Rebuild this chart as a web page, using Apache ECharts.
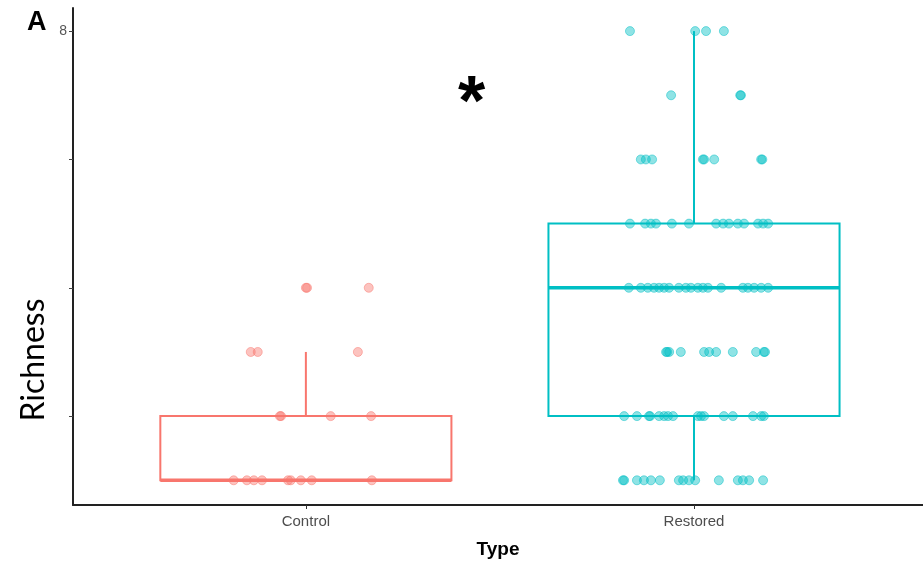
<!DOCTYPE html>
<html>
<head>
<meta charset="utf-8">
<script src="https://cdn.jsdelivr.net/npm/echarts@6/dist/echarts.min.js"></script>
<style>
  html, body { margin: 0; padding: 0; background: #fff; }
  #chart { width: 923px; height: 565px; }
</style>
</head>
<body>
<div id="chart"></div>
<script>
// Site types and their colours
const categories = ['Control', 'Restored'];
const colors = ['#F8766D', '#00BFC4'];

// Box summaries: [position, lower whisker, Q1, median, Q3, upper whisker]
const controlBox = [1, 1, 1, 1, 2, 3];
const restoredBox = [2, 1, 2, 4, 5, 8];

// Jittered observations: [jittered position, richness]
const controlPoints = [
  [1.000, 4], [1.003, 4], [1.162, 4],
  [0.858, 3], [0.876, 3], [1.134, 3],
  [0.933, 2], [0.936, 2], [1.064, 2], [1.168, 2],
  [0.814, 1], [0.848, 1], [0.866, 1], [0.887, 1], [0.954, 1],
  [0.961, 1], [0.987, 1], [1.015, 1], [1.170, 1]
];
const restoredPoints = [
  [1.835, 8], [2.003, 8], [2.031, 8], [2.077, 8],
  [1.941, 7], [2.119, 7], [2.121, 7],
  [1.863, 6], [1.876, 6], [1.892, 6], [2.023, 6], [2.026, 6], [2.052, 6], [2.173, 6], [2.176, 6],
  [1.835, 5], [1.874, 5], [1.889, 5], [1.902, 5], [1.943, 5], [1.987, 5], [2.057, 5],
  [2.075, 5], [2.090, 5], [2.113, 5], [2.129, 5], [2.165, 5], [2.178, 5], [2.191, 5],
  [1.832, 4], [1.863, 4], [1.881, 4], [1.897, 4], [1.910, 4], [1.923, 4], [1.936, 4],
  [1.961, 4], [1.979, 4], [1.992, 4], [2.010, 4], [2.023, 4], [2.036, 4], [2.070, 4],
  [2.126, 4], [2.139, 4], [2.155, 4], [2.173, 4], [2.191, 4],
  [1.928, 3], [1.931, 3], [1.936, 3], [1.966, 3], [2.026, 3], [2.039, 3], [2.057, 3],
  [2.100, 3], [2.160, 3], [2.180, 3], [2.183, 3],
  [1.820, 2], [1.853, 2], [1.884, 2], [1.887, 2], [1.910, 2], [1.923, 2], [1.933, 2],
  [1.946, 2], [2.010, 2], [2.018, 2], [2.026, 2], [2.077, 2], [2.100, 2], [2.152, 2],
  [2.173, 2], [2.180, 2],
  [1.817, 1], [1.820, 1], [1.853, 1], [1.871, 1], [1.889, 1], [1.912, 1], [1.961, 1],
  [1.972, 1], [1.987, 1], [2.003, 1], [2.064, 1], [2.113, 1], [2.126, 1], [2.142, 1], [2.178, 1]
];

// Y ticks (only the top one carries a visible label)
const yTicks = [2, 4, 6, 8];
const yLabelShown = [8];

const chart = echarts.init(document.getElementById('chart'), null, { renderer: 'canvas' });

const boxWidth = 0.75;

function renderBox(params, api) {
  const x = api.value(0);
  const lo = api.value(1), q1 = api.value(2), med = api.value(3), q3 = api.value(4), hi = api.value(5);
  const half = api.size([boxWidth, 0])[0] / 2;
  const c = api.coord([x, q1]);
  const pQ3 = api.coord([x, q3]);
  const pMed = api.coord([x, med]);
  const pLo = api.coord([x, lo]);
  const pHi = api.coord([x, hi]);
  const color = colors[params.dataIndex];
  const stroke = { stroke: color, lineWidth: 2, fill: null };
  return {
    type: 'group',
    children: [
      { type: 'line', shape: { x1: c[0], y1: pQ3[1], x2: c[0], y2: pHi[1] }, style: stroke },
      { type: 'line', shape: { x1: c[0], y1: c[1], x2: c[0], y2: pLo[1] }, style: stroke },
      { type: 'rect', shape: { x: c[0] - half, y: pQ3[1], width: half * 2, height: c[1] - pQ3[1] },
        style: { stroke: color, lineWidth: 2, fill: '#fff' } },
      { type: 'line', shape: { x1: c[0] - half, y1: pMed[1], x2: c[0] + half, y2: pMed[1] },
        style: { stroke: color, lineWidth: 3.5 } }
    ]
  };
}

const pointStyle = (color) => ({
  color: echarts.color.modifyAlpha(color, 0.55),
  borderColor: echarts.color.modifyAlpha(color, 0.6),
  borderWidth: 1
});

chart.setOption({
  animation: false,
  backgroundColor: '#fff',
  grid: { left: 73, right: 0, top: 8, bottom: 60, outerBoundsMode: 'none', containLabel: false },
  xAxis: {
    type: 'value',
    min: 0.4,
    max: 2.59,
    interval: 1,
    splitLine: { show: false },
    axisLine: { show: true, lineStyle: { color: '#222', width: 2 } },
    axisTick: {
      show: true, length: 4, lineStyle: { color: '#333', width: 1 },
      customValues: [1, 2]
    },
    axisLabel: {
      color: '#4d4d4d', fontSize: 15, fontFamily: 'Liberation Sans, Arial', margin: 9,
      customValues: [1, 2],
      formatter: (v) => categories[Math.round(v) - 1] || ''
    },
    name: 'Type',
    nameLocation: 'middle',
    nameGap: 35,
    nameTextStyle: { fontSize: 19, fontWeight: 'bold', color: '#000', fontFamily: 'Liberation Sans, Arial' }
  },
  yAxis: {
    type: 'value',
    min: 0.615,
    max: 8.36,
    splitLine: { show: false },
    axisLine: { show: true, lineStyle: { color: '#222', width: 2 } },
    axisTick: {
      show: true, length: 4, lineStyle: { color: '#444', width: 1 },
      customValues: yTicks
    },
    axisLabel: {
      color: '#555', fontSize: 14, fontFamily: 'Liberation Sans, Arial', margin: 6,
      customValues: yTicks,
      formatter: (v) => yLabelShown.indexOf(v) >= 0 ? String(v) : ''
    }
  },
  series: [
    {
      type: 'custom',
      renderItem: renderBox,
      data: [controlBox, restoredBox],
      z: 1
    },
    {
      type: 'scatter',
      data: controlPoints,
      symbolSize: 9,
      itemStyle: pointStyle(colors[0]),
      z: 2
    },
    {
      type: 'scatter',
      data: restoredPoints,
      symbolSize: 9,
      itemStyle: pointStyle(colors[1]),
      z: 2
    }
  ],
  graphic: [
    { type: 'text', left: 27, top: 9, style: { text: 'A', fontSize: 27, fontWeight: 'bold', fill: '#000', fontFamily: 'Liberation Sans, Arial' } },
    { type: 'text', left: 458, top: 71, style: { text: '*', fontSize: 70, fontWeight: 'bold', fill: '#000', fontFamily: 'Liberation Sans, Arial' } },
    {
      type: 'text', x: 18, y: 360, rotation: Math.PI / 2,
      style: { text: 'Richness', fontSize: 32, fill: '#000', fontFamily: 'Lato, Open Sans, sans-serif', align: 'center', verticalAlign: 'top' }
    }
  ]
});
</script>
</body>
</html>
